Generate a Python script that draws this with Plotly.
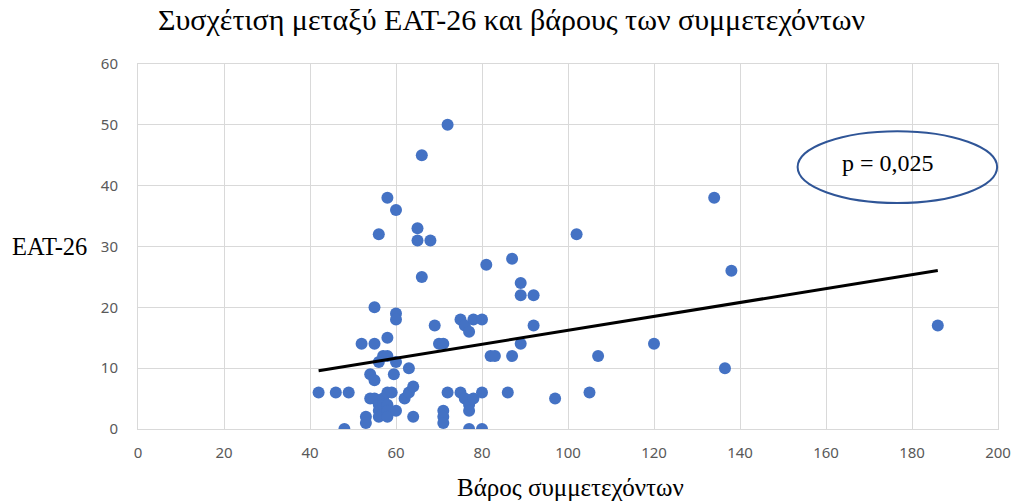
import numpy as np
import plotly.graph_objects as go

# Body weight of participants (kg) and their EAT-26 score
weight = [42, 46, 48, 49, 52, 53, 53, 54, 54, 55, 55, 55, 55, 56, 56, 56, 56, 56,
          57, 57, 57, 58, 58, 58, 58, 58, 58, 58, 59, 59.5, 60, 60, 60, 60, 60,
          62, 63, 63, 64, 64, 65, 65, 66, 66, 68, 69, 70, 71, 71, 71, 71, 72, 72,
          75, 75, 76, 76, 77, 77, 77, 77, 78, 78, 80, 80, 80, 81, 82, 83, 86, 87,
          87, 89, 89, 89, 92, 92, 97, 102, 105, 107, 120, 134, 136.5, 138, 186]
eat26 = [6, 6, 0, 6, 14, 2, 1, 9, 5, 20, 14, 8, 5, 32, 11, 4, 3, 2,
         12, 5, 4, 38, 15, 12, 6, 4, 3, 2, 6, 9, 36, 19, 18, 11, 3,
         5, 10, 6, 7, 2, 33, 31, 45, 25, 31, 17, 14, 14, 3, 2, 1, 50, 6,
         18, 6, 17, 5, 16, 4, 3, 0, 18, 5, 18, 6, 0, 27, 12, 12, 6, 28,
         12, 24, 22, 14, 22, 17, 5, 32, 6, 12, 14, 38, 10, 26, 17]

x_ticks = list(range(0, 201, 20))
y_ticks = list(range(0, 61, 10))

title_text = "Συσχέτιση μεταξύ EAT-26 και βάρους των συμμετεχόντων"
x_title = "Βάρος συμμετεχόντων"
y_title = "EAT-26"
p_text = "p = 0,025"

# Least-squares trend line across the observed weight range
slope, intercept = np.polyfit(weight, eat26, 1)
trend_x = [min(weight), max(weight)]
trend_y = [slope * v + intercept for v in trend_x]

serif = "Liberation Serif"
sans = "Noto Sans"
grid = "#d9d9d9"

fig = go.Figure()
fig.add_trace(go.Scatter(
    x=weight, y=eat26, mode="markers",
    marker=dict(color="#4472c4", size=12, line=dict(width=0)),
    showlegend=False, hoverinfo="x+y",
))
fig.add_trace(go.Scatter(
    x=trend_x, y=trend_y, mode="lines",
    line=dict(color="black", width=3),
    showlegend=False, hoverinfo="skip",
))

fig.update_layout(
    width=1023, height=504,
    margin=dict(l=138, r=18, t=64, b=75),
    paper_bgcolor="white", plot_bgcolor="white",
    title=dict(text=title_text, x=0.5, xanchor="center", y=0.962, yanchor="middle",
               font=dict(family=serif, size=30, color="black")),
    xaxis=dict(range=[0, 200], tickvals=x_ticks, showgrid=True, gridcolor=grid,
               gridwidth=1, zeroline=False, showline=True, linecolor=grid,
               linewidth=1, mirror=True, ticks="", ticklabelstandoff=10,
               tickfont=dict(family=sans, size=15, color="#595959")),
    yaxis=dict(range=[0, 60], tickvals=y_ticks, showgrid=True, gridcolor=grid,
               gridwidth=1, zeroline=False, showline=True, linecolor=grid,
               linewidth=1, mirror=True, ticks="", ticklabelstandoff=16,
               tickfont=dict(family=sans, size=15, color="#595959")),
    annotations=[
        dict(text=x_title, xref="paper", yref="paper", x=0.503, y=-0.159,
             xanchor="center", yanchor="middle", showarrow=False,
             font=dict(family=serif, size=25, color="black")),
        dict(text=y_title, xref="paper", yref="paper", x=-0.0565, y=0.4995,
             xanchor="right", yanchor="middle", showarrow=False,
             font=dict(family=serif, size=24.5, color="black")),
        dict(text=p_text, xref="paper", yref="paper", x=0.872, y=0.729,
             xanchor="center", yanchor="middle", showarrow=False,
             font=dict(family=serif, size=24, color="black")),
    ],
    shapes=[
        dict(type="circle", xref="paper", yref="paper",
             x0=0.767, x1=0.999, y0=0.619, y1=0.816,
             line=dict(color="#2f5597", width=2), fillcolor="rgba(0,0,0,0)"),
    ],
)

fig.write_html("out.html")
